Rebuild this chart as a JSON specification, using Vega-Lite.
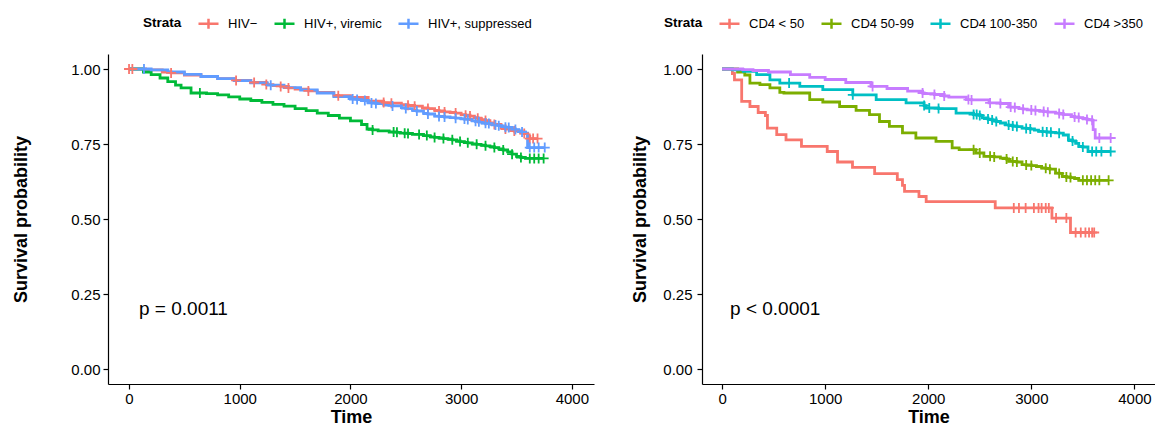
{
  "$schema": "https://vega.github.io/schema/vega-lite/v6.json",
  "padding": {"left": 12, "top": 12, "right": 0, "bottom": 0},
  "spacing": 37,
  "config": {
    "view": {"stroke": null},
    "font": "Liberation Sans",
    "axis": {
      "grid": false, "domainColor": "black", "domainWidth": 1.2, "tickColor": "black", "tickWidth": 1.2, "tickSize": 5,
      "labelColor": "black", "labelFontSize": 15, "titleFontSize": 18, "titleFontWeight": "bold", "titleColor": "black",
      "labelFlush": false, "labelOverlap": false
    },
    "legend": {
      "orient": "none", "direction": "horizontal", "titleOrient": "left",
      "symbolType": "M-1,0H1M0,-0.5V0.5", "symbolSize": 400, "symbolStrokeWidth": 2.5,
      "labelFontSize": 13, "labelColor": "black", "titleFontSize": 13.5, "titleColor": "black", "titleFontWeight": "bold",
      "columnPadding": 11, "labelOffset": 8, "titlePadding": 15
    }
  },
  "resolve": {"scale": {"color": "independent"}, "legend": {"color": "independent"}},
  "datasets": {
    "left": [
      {"g":"HIV−","t":0,"S":1.0,"c":1},{"g":"HIV−","t":30,"S":1.0,"c":1},{"g":"HIV−","t":150,"S":0.997,"c":0},{"g":"HIV−","t":300,"S":0.99,"c":0},{"g":"HIV−","t":380,"S":0.987,"c":1},{"g":"HIV−","t":500,"S":0.98,"c":0},{"g":"HIV−","t":650,"S":0.975,"c":0},{"g":"HIV−","t":800,"S":0.968,"c":0},{"g":"HIV−","t":950,"S":0.962,"c":0},{"g":"HIV−","t":967,"S":0.962,"c":1},{"g":"HIV−","t":1100,"S":0.955,"c":0},{"g":"HIV−","t":1130,"S":0.955,"c":1},{"g":"HIV−","t":1240,"S":0.948,"c":1},{"g":"HIV−","t":1300,"S":0.945,"c":0},{"g":"HIV−","t":1370,"S":0.942,"c":1},{"g":"HIV−","t":1440,"S":0.937,"c":1},{"g":"HIV−","t":1500,"S":0.933,"c":0},{"g":"HIV−","t":1620,"S":0.927,"c":1},{"g":"HIV−","t":1700,"S":0.922,"c":0},{"g":"HIV−","t":1850,"S":0.912,"c":0},{"g":"HIV−","t":1890,"S":0.911,"c":1},{"g":"HIV−","t":2000,"S":0.905,"c":0},{"g":"HIV−","t":2160,"S":0.893,"c":0},{"g":"HIV−","t":2300,"S":0.888,"c":1},{"g":"HIV−","t":2370,"S":0.886,"c":1},{"g":"HIV−","t":2460,"S":0.881,"c":0},{"g":"HIV−","t":2520,"S":0.879,"c":1},{"g":"HIV−","t":2580,"S":0.876,"c":1},{"g":"HIV−","t":2650,"S":0.87,"c":0},{"g":"HIV−","t":2700,"S":0.868,"c":1},{"g":"HIV−","t":2760,"S":0.862,"c":0},{"g":"HIV−","t":2800,"S":0.86,"c":1},{"g":"HIV−","t":2850,"S":0.857,"c":1},{"g":"HIV−","t":2900,"S":0.855,"c":0},{"g":"HIV−","t":2950,"S":0.853,"c":1},{"g":"HIV−","t":3000,"S":0.848,"c":0},{"g":"HIV−","t":3040,"S":0.846,"c":1},{"g":"HIV−","t":3080,"S":0.843,"c":1},{"g":"HIV−","t":3120,"S":0.838,"c":0},{"g":"HIV−","t":3150,"S":0.836,"c":1},{"g":"HIV−","t":3180,"S":0.831,"c":0},{"g":"HIV−","t":3220,"S":0.828,"c":1},{"g":"HIV−","t":3260,"S":0.82,"c":0},{"g":"HIV−","t":3300,"S":0.815,"c":1},{"g":"HIV−","t":3360,"S":0.804,"c":0},{"g":"HIV−","t":3400,"S":0.8,"c":1},{"g":"HIV−","t":3450,"S":0.795,"c":0},{"g":"HIV−","t":3480,"S":0.793,"c":1},{"g":"HIV−","t":3540,"S":0.787,"c":0},{"g":"HIV−","t":3570,"S":0.785,"c":1},{"g":"HIV−","t":3600,"S":0.775,"c":0},{"g":"HIV−","t":3620,"S":0.768,"c":1},{"g":"HIV−","t":3650,"S":0.768,"c":1},{"g":"HIV−","t":3690,"S":0.768,"c":1},
      {"g":"HIV+, viremic","t":0,"S":1.0,"c":0},{"g":"HIV+, viremic","t":80,"S":1.0,"c":0},{"g":"HIV+, viremic","t":130,"S":0.99,"c":0},{"g":"HIV+, viremic","t":200,"S":0.981,"c":0},{"g":"HIV+, viremic","t":280,"S":0.97,"c":0},{"g":"HIV+, viremic","t":350,"S":0.958,"c":0},{"g":"HIV+, viremic","t":420,"S":0.946,"c":0},{"g":"HIV+, viremic","t":470,"S":0.937,"c":0},{"g":"HIV+, viremic","t":560,"S":0.92,"c":0},{"g":"HIV+, viremic","t":640,"S":0.92,"c":1},{"g":"HIV+, viremic","t":700,"S":0.918,"c":0},{"g":"HIV+, viremic","t":800,"S":0.914,"c":0},{"g":"HIV+, viremic","t":900,"S":0.907,"c":0},{"g":"HIV+, viremic","t":1000,"S":0.9,"c":0},{"g":"HIV+, viremic","t":1100,"S":0.895,"c":0},{"g":"HIV+, viremic","t":1200,"S":0.889,"c":0},{"g":"HIV+, viremic","t":1300,"S":0.882,"c":0},{"g":"HIV+, viremic","t":1400,"S":0.876,"c":0},{"g":"HIV+, viremic","t":1500,"S":0.868,"c":0},{"g":"HIV+, viremic","t":1600,"S":0.861,"c":0},{"g":"HIV+, viremic","t":1700,"S":0.853,"c":0},{"g":"HIV+, viremic","t":1800,"S":0.845,"c":0},{"g":"HIV+, viremic","t":1900,"S":0.836,"c":0},{"g":"HIV+, viremic","t":2000,"S":0.827,"c":0},{"g":"HIV+, viremic","t":2100,"S":0.815,"c":0},{"g":"HIV+, viremic","t":2150,"S":0.8,"c":0},{"g":"HIV+, viremic","t":2200,"S":0.797,"c":1},{"g":"HIV+, viremic","t":2250,"S":0.794,"c":0},{"g":"HIV+, viremic","t":2350,"S":0.79,"c":0},{"g":"HIV+, viremic","t":2390,"S":0.79,"c":1},{"g":"HIV+, viremic","t":2420,"S":0.789,"c":1},{"g":"HIV+, viremic","t":2450,"S":0.786,"c":0},{"g":"HIV+, viremic","t":2490,"S":0.786,"c":1},{"g":"HIV+, viremic","t":2520,"S":0.785,"c":1},{"g":"HIV+, viremic","t":2560,"S":0.782,"c":0},{"g":"HIV+, viremic","t":2620,"S":0.782,"c":1},{"g":"HIV+, viremic","t":2660,"S":0.778,"c":0},{"g":"HIV+, viremic","t":2690,"S":0.778,"c":1},{"g":"HIV+, viremic","t":2720,"S":0.774,"c":0},{"g":"HIV+, viremic","t":2760,"S":0.772,"c":1},{"g":"HIV+, viremic","t":2800,"S":0.77,"c":0},{"g":"HIV+, viremic","t":2840,"S":0.768,"c":1},{"g":"HIV+, viremic","t":2880,"S":0.766,"c":0},{"g":"HIV+, viremic","t":2920,"S":0.764,"c":1},{"g":"HIV+, viremic","t":2960,"S":0.76,"c":0},{"g":"HIV+, viremic","t":2990,"S":0.758,"c":1},{"g":"HIV+, viremic","t":3030,"S":0.755,"c":0},{"g":"HIV+, viremic","t":3060,"S":0.754,"c":1},{"g":"HIV+, viremic","t":3100,"S":0.75,"c":0},{"g":"HIV+, viremic","t":3140,"S":0.749,"c":1},{"g":"HIV+, viremic","t":3180,"S":0.746,"c":0},{"g":"HIV+, viremic","t":3220,"S":0.744,"c":1},{"g":"HIV+, viremic","t":3260,"S":0.741,"c":0},{"g":"HIV+, viremic","t":3300,"S":0.738,"c":1},{"g":"HIV+, viremic","t":3340,"S":0.734,"c":0},{"g":"HIV+, viremic","t":3380,"S":0.73,"c":1},{"g":"HIV+, viremic","t":3420,"S":0.724,"c":0},{"g":"HIV+, viremic","t":3460,"S":0.716,"c":1},{"g":"HIV+, viremic","t":3500,"S":0.709,"c":0},{"g":"HIV+, viremic","t":3540,"S":0.705,"c":1},{"g":"HIV+, viremic","t":3580,"S":0.702,"c":0},{"g":"HIV+, viremic","t":3620,"S":0.702,"c":1},{"g":"HIV+, viremic","t":3660,"S":0.702,"c":1},{"g":"HIV+, viremic","t":3700,"S":0.702,"c":1},{"g":"HIV+, viremic","t":3745,"S":0.702,"c":1},
      {"g":"HIV+, suppressed","t":0,"S":1.0,"c":0},{"g":"HIV+, suppressed","t":135,"S":1.0,"c":1},{"g":"HIV+, suppressed","t":200,"S":0.997,"c":0},{"g":"HIV+, suppressed","t":350,"S":0.99,"c":0},{"g":"HIV+, suppressed","t":500,"S":0.982,"c":0},{"g":"HIV+, suppressed","t":650,"S":0.975,"c":0},{"g":"HIV+, suppressed","t":800,"S":0.968,"c":0},{"g":"HIV+, suppressed","t":950,"S":0.961,"c":0},{"g":"HIV+, suppressed","t":1100,"S":0.954,"c":0},{"g":"HIV+, suppressed","t":1250,"S":0.946,"c":0},{"g":"HIV+, suppressed","t":1280,"S":0.946,"c":1},{"g":"HIV+, suppressed","t":1400,"S":0.938,"c":0},{"g":"HIV+, suppressed","t":1550,"S":0.93,"c":0},{"g":"HIV+, suppressed","t":1700,"S":0.92,"c":0},{"g":"HIV+, suppressed","t":1850,"S":0.908,"c":0},{"g":"HIV+, suppressed","t":2000,"S":0.9,"c":0},{"g":"HIV+, suppressed","t":2020,"S":0.9,"c":1},{"g":"HIV+, suppressed","t":2060,"S":0.898,"c":1},{"g":"HIV+, suppressed","t":2100,"S":0.895,"c":0},{"g":"HIV+, suppressed","t":2130,"S":0.895,"c":1},{"g":"HIV+, suppressed","t":2160,"S":0.887,"c":0},{"g":"HIV+, suppressed","t":2190,"S":0.887,"c":1},{"g":"HIV+, suppressed","t":2230,"S":0.885,"c":1},{"g":"HIV+, suppressed","t":2300,"S":0.88,"c":0},{"g":"HIV+, suppressed","t":2380,"S":0.877,"c":1},{"g":"HIV+, suppressed","t":2460,"S":0.871,"c":0},{"g":"HIV+, suppressed","t":2500,"S":0.868,"c":1},{"g":"HIV+, suppressed","t":2560,"S":0.862,"c":0},{"g":"HIV+, suppressed","t":2600,"S":0.86,"c":1},{"g":"HIV+, suppressed","t":2660,"S":0.852,"c":0},{"g":"HIV+, suppressed","t":2700,"S":0.85,"c":1},{"g":"HIV+, suppressed","t":2760,"S":0.843,"c":0},{"g":"HIV+, suppressed","t":2800,"S":0.842,"c":1},{"g":"HIV+, suppressed","t":2850,"S":0.84,"c":1},{"g":"HIV+, suppressed","t":2900,"S":0.838,"c":0},{"g":"HIV+, suppressed","t":2950,"S":0.836,"c":1},{"g":"HIV+, suppressed","t":3000,"S":0.834,"c":0},{"g":"HIV+, suppressed","t":3030,"S":0.833,"c":1},{"g":"HIV+, suppressed","t":3060,"S":0.832,"c":1},{"g":"HIV+, suppressed","t":3100,"S":0.827,"c":0},{"g":"HIV+, suppressed","t":3130,"S":0.826,"c":1},{"g":"HIV+, suppressed","t":3160,"S":0.824,"c":1},{"g":"HIV+, suppressed","t":3190,"S":0.82,"c":0},{"g":"HIV+, suppressed","t":3220,"S":0.819,"c":1},{"g":"HIV+, suppressed","t":3250,"S":0.818,"c":1},{"g":"HIV+, suppressed","t":3280,"S":0.814,"c":0},{"g":"HIV+, suppressed","t":3310,"S":0.813,"c":1},{"g":"HIV+, suppressed","t":3340,"S":0.811,"c":1},{"g":"HIV+, suppressed","t":3370,"S":0.808,"c":0},{"g":"HIV+, suppressed","t":3400,"S":0.806,"c":1},{"g":"HIV+, suppressed","t":3430,"S":0.805,"c":1},{"g":"HIV+, suppressed","t":3460,"S":0.8,"c":0},{"g":"HIV+, suppressed","t":3490,"S":0.798,"c":1},{"g":"HIV+, suppressed","t":3520,"S":0.793,"c":0},{"g":"HIV+, suppressed","t":3550,"S":0.79,"c":1},{"g":"HIV+, suppressed","t":3580,"S":0.786,"c":0},{"g":"HIV+, suppressed","t":3600,"S":0.738,"c":0},{"g":"HIV+, suppressed","t":3620,"S":0.738,"c":1},{"g":"HIV+, suppressed","t":3660,"S":0.738,"c":1},{"g":"HIV+, suppressed","t":3700,"S":0.738,"c":1},{"g":"HIV+, suppressed","t":3755,"S":0.738,"c":1}
    ],
    "right": [
      {"g":"CD4 < 50","t":0,"S":1.0,"c":0},{"g":"CD4 < 50","t":100,"S":0.985,"c":0},{"g":"CD4 < 50","t":120,"S":0.964,"c":0},{"g":"CD4 < 50","t":190,"S":0.892,"c":0},{"g":"CD4 < 50","t":270,"S":0.875,"c":0},{"g":"CD4 < 50","t":350,"S":0.855,"c":0},{"g":"CD4 < 50","t":420,"S":0.845,"c":0},{"g":"CD4 < 50","t":440,"S":0.803,"c":0},{"g":"CD4 < 50","t":530,"S":0.781,"c":0},{"g":"CD4 < 50","t":620,"S":0.764,"c":0},{"g":"CD4 < 50","t":770,"S":0.742,"c":0},{"g":"CD4 < 50","t":1020,"S":0.725,"c":0},{"g":"CD4 < 50","t":1120,"S":0.69,"c":0},{"g":"CD4 < 50","t":1265,"S":0.672,"c":0},{"g":"CD4 < 50","t":1480,"S":0.651,"c":0},{"g":"CD4 < 50","t":1700,"S":0.631,"c":0},{"g":"CD4 < 50","t":1750,"S":0.612,"c":0},{"g":"CD4 < 50","t":1770,"S":0.592,"c":0},{"g":"CD4 < 50","t":1910,"S":0.575,"c":0},{"g":"CD4 < 50","t":1980,"S":0.558,"c":0},{"g":"CD4 < 50","t":2650,"S":0.537,"c":0},{"g":"CD4 < 50","t":2830,"S":0.537,"c":1},{"g":"CD4 < 50","t":2880,"S":0.537,"c":1},{"g":"CD4 < 50","t":2945,"S":0.537,"c":1},{"g":"CD4 < 50","t":3025,"S":0.537,"c":1},{"g":"CD4 < 50","t":3070,"S":0.537,"c":1},{"g":"CD4 < 50","t":3100,"S":0.537,"c":1},{"g":"CD4 < 50","t":3140,"S":0.537,"c":1},{"g":"CD4 < 50","t":3170,"S":0.537,"c":1},{"g":"CD4 < 50","t":3200,"S":0.503,"c":0},{"g":"CD4 < 50","t":3240,"S":0.503,"c":1},{"g":"CD4 < 50","t":3340,"S":0.503,"c":1},{"g":"CD4 < 50","t":3380,"S":0.455,"c":0},{"g":"CD4 < 50","t":3430,"S":0.455,"c":1},{"g":"CD4 < 50","t":3480,"S":0.455,"c":1},{"g":"CD4 < 50","t":3525,"S":0.455,"c":1},{"g":"CD4 < 50","t":3560,"S":0.455,"c":1},{"g":"CD4 < 50","t":3590,"S":0.455,"c":1},{"g":"CD4 < 50","t":3610,"S":0.455,"c":1},
      {"g":"CD4 50-99","t":0,"S":1.0,"c":0},{"g":"CD4 50-99","t":95,"S":1.0,"c":0},{"g":"CD4 50-99","t":150,"S":0.99,"c":0},{"g":"CD4 50-99","t":220,"S":0.98,"c":0},{"g":"CD4 50-99","t":270,"S":0.953,"c":0},{"g":"CD4 50-99","t":367,"S":0.948,"c":0},{"g":"CD4 50-99","t":464,"S":0.937,"c":0},{"g":"CD4 50-99","t":560,"S":0.922,"c":0},{"g":"CD4 50-99","t":600,"S":0.92,"c":0},{"g":"CD4 50-99","t":820,"S":0.92,"c":0},{"g":"CD4 50-99","t":850,"S":0.898,"c":0},{"g":"CD4 50-99","t":977,"S":0.89,"c":0},{"g":"CD4 50-99","t":1140,"S":0.875,"c":0},{"g":"CD4 50-99","t":1300,"S":0.862,"c":0},{"g":"CD4 50-99","t":1430,"S":0.848,"c":0},{"g":"CD4 50-99","t":1527,"S":0.825,"c":0},{"g":"CD4 50-99","t":1623,"S":0.809,"c":0},{"g":"CD4 50-99","t":1750,"S":0.787,"c":0},{"g":"CD4 50-99","t":1880,"S":0.77,"c":0},{"g":"CD4 50-99","t":2075,"S":0.759,"c":0},{"g":"CD4 50-99","t":2232,"S":0.737,"c":0},{"g":"CD4 50-99","t":2300,"S":0.731,"c":0},{"g":"CD4 50-99","t":2440,"S":0.731,"c":1},{"g":"CD4 50-99","t":2460,"S":0.72,"c":0},{"g":"CD4 50-99","t":2500,"S":0.72,"c":1},{"g":"CD4 50-99","t":2540,"S":0.709,"c":0},{"g":"CD4 50-99","t":2600,"S":0.709,"c":1},{"g":"CD4 50-99","t":2640,"S":0.707,"c":1},{"g":"CD4 50-99","t":2700,"S":0.703,"c":0},{"g":"CD4 50-99","t":2760,"S":0.7,"c":1},{"g":"CD4 50-99","t":2780,"S":0.692,"c":0},{"g":"CD4 50-99","t":2820,"S":0.692,"c":1},{"g":"CD4 50-99","t":2860,"S":0.69,"c":1},{"g":"CD4 50-99","t":2910,"S":0.681,"c":0},{"g":"CD4 50-99","t":2950,"S":0.68,"c":1},{"g":"CD4 50-99","t":3000,"S":0.678,"c":1},{"g":"CD4 50-99","t":3050,"S":0.675,"c":0},{"g":"CD4 50-99","t":3100,"S":0.67,"c":0},{"g":"CD4 50-99","t":3140,"S":0.669,"c":1},{"g":"CD4 50-99","t":3180,"S":0.666,"c":1},{"g":"CD4 50-99","t":3235,"S":0.653,"c":0},{"g":"CD4 50-99","t":3270,"S":0.652,"c":1},{"g":"CD4 50-99","t":3300,"S":0.642,"c":0},{"g":"CD4 50-99","t":3340,"S":0.64,"c":1},{"g":"CD4 50-99","t":3380,"S":0.638,"c":1},{"g":"CD4 50-99","t":3420,"S":0.635,"c":0},{"g":"CD4 50-99","t":3460,"S":0.629,"c":0},{"g":"CD4 50-99","t":3500,"S":0.629,"c":1},{"g":"CD4 50-99","t":3540,"S":0.629,"c":1},{"g":"CD4 50-99","t":3580,"S":0.629,"c":1},{"g":"CD4 50-99","t":3620,"S":0.629,"c":1},{"g":"CD4 50-99","t":3660,"S":0.629,"c":1},{"g":"CD4 50-99","t":3750,"S":0.629,"c":1},
      {"g":"CD4 100-350","t":0,"S":1.0,"c":0},{"g":"CD4 100-350","t":100,"S":0.997,"c":0},{"g":"CD4 100-350","t":205,"S":0.992,"c":0},{"g":"CD4 100-350","t":335,"S":0.981,"c":0},{"g":"CD4 100-350","t":464,"S":0.964,"c":0},{"g":"CD4 100-350","t":560,"S":0.953,"c":0},{"g":"CD4 100-350","t":650,"S":0.953,"c":1},{"g":"CD4 100-350","t":754,"S":0.942,"c":0},{"g":"CD4 100-350","t":977,"S":0.931,"c":0},{"g":"CD4 100-350","t":1268,"S":0.914,"c":1},{"g":"CD4 100-350","t":1300,"S":0.914,"c":0},{"g":"CD4 100-350","t":1495,"S":0.898,"c":0},{"g":"CD4 100-350","t":1785,"S":0.887,"c":0},{"g":"CD4 100-350","t":1960,"S":0.878,"c":1},{"g":"CD4 100-350","t":1980,"S":0.87,"c":0},{"g":"CD4 100-350","t":2010,"S":0.87,"c":1},{"g":"CD4 100-350","t":2100,"S":0.868,"c":1},{"g":"CD4 100-350","t":2270,"S":0.853,"c":0},{"g":"CD4 100-350","t":2440,"S":0.848,"c":1},{"g":"CD4 100-350","t":2470,"S":0.848,"c":1},{"g":"CD4 100-350","t":2500,"S":0.845,"c":1},{"g":"CD4 100-350","t":2525,"S":0.837,"c":0},{"g":"CD4 100-350","t":2580,"S":0.833,"c":1},{"g":"CD4 100-350","t":2620,"S":0.83,"c":1},{"g":"CD4 100-350","t":2660,"S":0.825,"c":1},{"g":"CD4 100-350","t":2700,"S":0.82,"c":0},{"g":"CD4 100-350","t":2750,"S":0.814,"c":0},{"g":"CD4 100-350","t":2780,"S":0.813,"c":1},{"g":"CD4 100-350","t":2820,"S":0.81,"c":1},{"g":"CD4 100-350","t":2860,"S":0.808,"c":1},{"g":"CD4 100-350","t":2910,"S":0.803,"c":0},{"g":"CD4 100-350","t":2950,"S":0.802,"c":1},{"g":"CD4 100-350","t":2990,"S":0.8,"c":1},{"g":"CD4 100-350","t":3030,"S":0.796,"c":0},{"g":"CD4 100-350","t":3070,"S":0.792,"c":0},{"g":"CD4 100-350","t":3110,"S":0.791,"c":1},{"g":"CD4 100-350","t":3150,"S":0.79,"c":1},{"g":"CD4 100-350","t":3190,"S":0.789,"c":1},{"g":"CD4 100-350","t":3235,"S":0.787,"c":0},{"g":"CD4 100-350","t":3270,"S":0.786,"c":1},{"g":"CD4 100-350","t":3310,"S":0.78,"c":0},{"g":"CD4 100-350","t":3360,"S":0.764,"c":0},{"g":"CD4 100-350","t":3400,"S":0.76,"c":1},{"g":"CD4 100-350","t":3430,"S":0.752,"c":0},{"g":"CD4 100-350","t":3460,"S":0.742,"c":0},{"g":"CD4 100-350","t":3500,"S":0.74,"c":1},{"g":"CD4 100-350","t":3550,"S":0.725,"c":0},{"g":"CD4 100-350","t":3590,"S":0.725,"c":1},{"g":"CD4 100-350","t":3630,"S":0.725,"c":1},{"g":"CD4 100-350","t":3680,"S":0.725,"c":1},{"g":"CD4 100-350","t":3770,"S":0.725,"c":1},
      {"g":"CD4 >350","t":0,"S":1.0,"c":0},{"g":"CD4 >350","t":200,"S":0.998,"c":0},{"g":"CD4 >350","t":300,"S":0.995,"c":0},{"g":"CD4 >350","t":450,"S":0.99,"c":0},{"g":"CD4 >350","t":663,"S":0.981,"c":0},{"g":"CD4 >350","t":850,"S":0.972,"c":0},{"g":"CD4 >350","t":1000,"S":0.965,"c":0},{"g":"CD4 >350","t":1200,"S":0.955,"c":0},{"g":"CD4 >350","t":1444,"S":0.942,"c":0},{"g":"CD4 >350","t":1460,"S":0.942,"c":1},{"g":"CD4 >350","t":1600,"S":0.935,"c":0},{"g":"CD4 >350","t":1800,"S":0.926,"c":0},{"g":"CD4 >350","t":1945,"S":0.92,"c":1},{"g":"CD4 >350","t":1960,"S":0.918,"c":0},{"g":"CD4 >350","t":2060,"S":0.915,"c":1},{"g":"CD4 >350","t":2155,"S":0.91,"c":1},{"g":"CD4 >350","t":2200,"S":0.906,"c":0},{"g":"CD4 >350","t":2370,"S":0.898,"c":0},{"g":"CD4 >350","t":2390,"S":0.898,"c":1},{"g":"CD4 >350","t":2420,"S":0.897,"c":1},{"g":"CD4 >350","t":2590,"S":0.887,"c":0},{"g":"CD4 >350","t":2600,"S":0.887,"c":1},{"g":"CD4 >350","t":2700,"S":0.885,"c":1},{"g":"CD4 >350","t":2780,"S":0.873,"c":0},{"g":"CD4 >350","t":2800,"S":0.873,"c":1},{"g":"CD4 >350","t":2840,"S":0.872,"c":1},{"g":"CD4 >350","t":2880,"S":0.868,"c":0},{"g":"CD4 >350","t":2920,"S":0.866,"c":1},{"g":"CD4 >350","t":2960,"S":0.864,"c":0},{"g":"CD4 >350","t":3000,"S":0.863,"c":1},{"g":"CD4 >350","t":3040,"S":0.862,"c":1},{"g":"CD4 >350","t":3080,"S":0.86,"c":0},{"g":"CD4 >350","t":3120,"S":0.858,"c":1},{"g":"CD4 >350","t":3160,"S":0.856,"c":1},{"g":"CD4 >350","t":3235,"S":0.853,"c":0},{"g":"CD4 >350","t":3270,"S":0.852,"c":1},{"g":"CD4 >350","t":3310,"S":0.848,"c":1},{"g":"CD4 >350","t":3390,"S":0.842,"c":0},{"g":"CD4 >350","t":3420,"S":0.84,"c":1},{"g":"CD4 >350","t":3460,"S":0.838,"c":1},{"g":"CD4 >350","t":3500,"S":0.835,"c":0},{"g":"CD4 >350","t":3540,"S":0.832,"c":1},{"g":"CD4 >350","t":3555,"S":0.831,"c":0},{"g":"CD4 >350","t":3590,"S":0.829,"c":1},{"g":"CD4 >350","t":3600,"S":0.798,"c":0},{"g":"CD4 >350","t":3620,"S":0.77,"c":0},{"g":"CD4 >350","t":3660,"S":0.77,"c":1},{"g":"CD4 >350","t":3770,"S":0.77,"c":1}
    ],
    "lp": [{"t": 90, "S": 0.2, "label": "p = 0.0011"}],
    "rp": [{"t": 77, "S": 0.2, "label": "p < 0.0001"}]
  },
  "hconcat": [
    {
      "width": 486, "height": 330,
      "layer": [
        {
          "data": {"name": "left"},
          "mark": {"type": "line", "interpolate": "step-after", "strokeWidth": 2.8},
          "encoding": {
            "x": {"field": "t", "type": "quantitative", "scale": {"domain": [-190, 4200], "nice": false, "zero": false},
                  "axis": {"title": "Time", "values": [0, 1000, 2000, 3000, 4000], "format": "d", "labelPadding": 2, "titlePadding": 2}},
            "y": {"field": "S", "type": "quantitative", "scale": {"domain": [-0.05, 1.05], "nice": false, "zero": false},
                  "axis": {"title": "Survival probability", "values": [0, 0.25, 0.5, 0.75, 1], "format": ".2f", "labelPadding": 3, "titlePadding": 40}},
            "color": {"field": "g", "type": "nominal", "scale": {"domain": ["HIV−", "HIV+, viremic", "HIV+, suppressed"], "range": ["#F8766D", "#00BA38", "#619CFF"]},
                      "legend": {"title": "Strata", "legendX": 35, "legendY": -42}}
          }
        },
        {
          "data": {"name": "left"},
          "transform": [{"filter": "datum.c == 1"}],
          "mark": {"type": "point", "shape": "M-1,0H1M0,-1V1", "size": 100, "strokeWidth": 1.8, "filled": false, "opacity": 1},
          "encoding": {
            "x": {"field": "t", "type": "quantitative"},
            "y": {"field": "S", "type": "quantitative"},
            "color": {"field": "g", "type": "nominal", "legend": null}
          }
        },
        {
          "data": {"name": "lp"},
          "mark": {"type": "text", "align": "left", "baseline": "middle", "fontSize": 19, "color": "black"},
          "encoding": {
            "x": {"field": "t", "type": "quantitative"},
            "y": {"field": "S", "type": "quantitative"},
            "text": {"field": "label"}
          }
        }
      ]
    },
    {
      "width": 453, "height": 330,
      "layer": [
        {
          "data": {"name": "right"},
          "mark": {"type": "line", "interpolate": "step-after", "strokeWidth": 2.8},
          "encoding": {
            "x": {"field": "t", "type": "quantitative", "scale": {"domain": [-195, 4200], "nice": false, "zero": false},
                  "axis": {"title": "Time", "values": [0, 1000, 2000, 3000, 4000], "format": "d", "labelPadding": 2, "titlePadding": 2}},
            "y": {"field": "S", "type": "quantitative", "scale": {"domain": [-0.05, 1.05], "nice": false, "zero": false},
                  "axis": {"title": "Survival probability", "values": [0, 0.25, 0.5, 0.75, 1], "format": ".2f", "labelPadding": 5, "titlePadding": 13}},
            "color": {"field": "g", "type": "nominal", "scale": {"domain": ["CD4 < 50", "CD4 50-99", "CD4 100-350", "CD4 >350"], "range": ["#F8766D", "#7CAE00", "#00BFC4", "#C77CFF"]},
                      "legend": {"title": "Strata", "legendX": -38, "legendY": -42}}
          }
        },
        {
          "data": {"name": "right"},
          "transform": [{"filter": "datum.c == 1"}],
          "mark": {"type": "point", "shape": "M-1,0H1M0,-1V1", "size": 100, "strokeWidth": 1.8, "filled": false, "opacity": 1},
          "encoding": {
            "x": {"field": "t", "type": "quantitative"},
            "y": {"field": "S", "type": "quantitative"},
            "color": {"field": "g", "type": "nominal", "legend": null}
          }
        },
        {
          "data": {"name": "rp"},
          "mark": {"type": "text", "align": "left", "baseline": "middle", "fontSize": 19, "color": "black"},
          "encoding": {
            "x": {"field": "t", "type": "quantitative"},
            "y": {"field": "S", "type": "quantitative"},
            "text": {"field": "label"}
          }
        }
      ]
    }
  ]
}
